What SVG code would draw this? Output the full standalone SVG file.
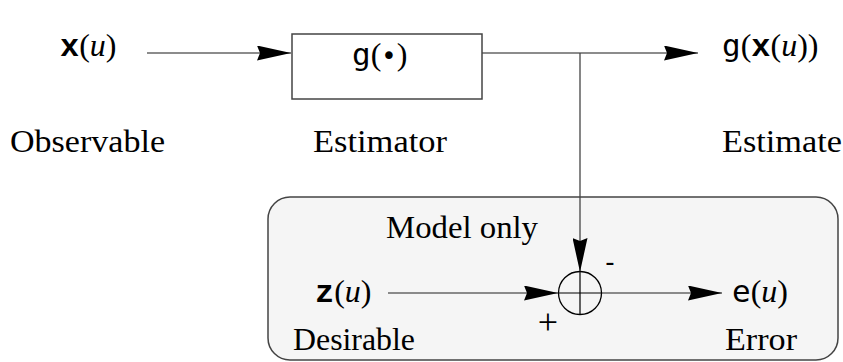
<svg xmlns="http://www.w3.org/2000/svg" width="843" height="362" viewBox="0 0 843 362">
<defs>
<marker id="ah" viewBox="0 0 34 15" refX="34" refY="7.5" markerWidth="34" markerHeight="15" markerUnits="userSpaceOnUse" orient="auto">
<path d="M0,0 L34,7.5 L0,15 L3,7.5 Z" fill="#000"/>
</marker>
<style>
.lbl{font-family:"Liberation Serif","DejaVu Serif",serif;font-size:32px;fill:#000}
.tt{font-family:"DejaVu Sans Mono","Liberation Mono",monospace;fill:#000;font-size:31px}
.tb{font-family:"Liberation Mono","DejaVu Sans Mono",monospace;fill:#000;font-size:32px;font-weight:bold}
.it{font-style:italic}
.ln{stroke:#666;stroke-width:1.6;fill:none}
.ar{marker-end:url(#ah)}
</style>
</defs>
<rect x="268" y="197" width="570" height="163" rx="22" ry="22" fill="#f5f5f5" stroke="#444" stroke-width="1.5"/>
<g id="connectors">
<path class="ln ar" d="M147,53 H291"/>
<path class="ln ar" d="M482,53 H698"/>
<path d="M580,53 V272" stroke="#444" stroke-width="1.3" fill="none" marker-end="url(#ah)"/>
<path class="ln ar" d="M388,293 H558"/>
<path class="ln ar" d="M601,293 H722"/>
</g>
<g id="input">
<text class="lbl" x="60" y="56"><tspan class="tb">x</tspan>(<tspan class="it">u</tspan>)</text>
<text class="lbl" x="10" y="152" textLength="155" lengthAdjust="spacingAndGlyphs">Observable</text>
</g>
<g id="estimator">
<rect x="292" y="34" width="190" height="65" fill="#fff" stroke="#444" stroke-width="1.5"/>
<text class="lbl" x="352" y="65"><tspan class="tt">g</tspan>(<tspan font-family="DejaVu Sans" font-size="26">•</tspan>)</text>
<text class="lbl" x="313" y="152" textLength="134" lengthAdjust="spacingAndGlyphs">Estimator</text>
</g>
<g id="output">
<text class="lbl" x="722" y="56"><tspan class="tt">g</tspan>(<tspan class="tb">x</tspan>(<tspan class="it">u</tspan>))</text>
<text class="lbl" x="722" y="152" textLength="120" lengthAdjust="spacingAndGlyphs">Estimate</text>
</g>
<g id="model">
<text class="lbl" x="386" y="238" textLength="152" lengthAdjust="spacingAndGlyphs">Model only</text>
</g>
<g id="desirable">
<text class="lbl" x="315" y="302"><tspan class="tb">z</tspan>(<tspan class="it">u</tspan>)</text>
<text class="lbl" x="293" y="350" textLength="122" lengthAdjust="spacingAndGlyphs">Desirable</text>
</g>
<g id="sum">
<circle cx="580" cy="293" r="21.5" fill="none" stroke="#000" stroke-width="1.3"/>
<path d="M558.5,293 H601.5 M580,271.5 V314.5" stroke="#000" stroke-width="1.2"/>
<text x="548" y="334" text-anchor="middle" font-family="Liberation Serif, serif" font-size="36">+</text>
<text x="610" y="271" text-anchor="middle" font-family="DejaVu Sans, sans-serif" font-size="26">-</text>
</g>
<g id="error">
<text class="lbl" x="732" y="302"><tspan class="tt">e</tspan>(<tspan class="it">u</tspan>)</text>
<text class="lbl" x="725" y="350" textLength="72" lengthAdjust="spacingAndGlyphs">Error</text>
</g>
</svg>
